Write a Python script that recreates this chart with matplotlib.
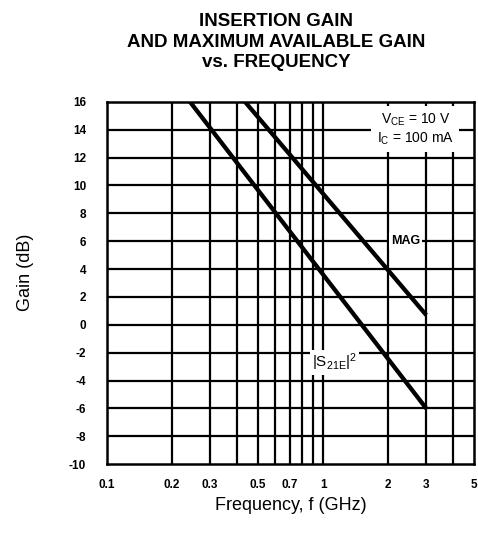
import matplotlib
matplotlib.use("Agg")
import matplotlib.pyplot as plt

plt.rcParams['font.family'] = ['Liberation Sans', 'DejaVu Sans']
plt.rcParams['mathtext.fontset'] = 'custom'
plt.rcParams['mathtext.rm'] = 'Liberation Sans'
plt.rcParams['mathtext.it'] = 'Liberation Sans'
plt.rcParams['mathtext.bf'] = 'Liberation Sans:bold'
plt.rcParams['mathtext.default'] = 'regular'

# Data (straight lines on the log axis)
mag_freq = [0.435, 1.0, 3.0]
mag_gain = [16.0, 9.4, 0.7]
s21_freq = [0.242, 1.0, 3.0]
s21_gain = [16.0, 3.6, -6.0]

x_ticks = [0.1, 0.2, 0.3, 0.5, 0.7, 1, 2, 3, 5]
x_tick_labels = ['0.1', '0.2', '0.3', '0.5', '0.7', '1', '2', '3', '5']
x_grid = [0.2, 0.3, 0.4, 0.5, 0.6, 0.7, 0.8, 0.9, 1, 2, 3, 4]
y_ticks = list(range(-10, 17, 2))

fig = plt.figure(figsize=(4.78, 5.36), dpi=100)
ax = fig.add_axes([0.224, 0.134, 0.768, 0.676])
ax.set_xscale('log')
ax.set_xlim(0.1, 5)
ax.set_ylim(-10, 16)

for xv in x_grid:
    ax.axvline(xv, color='black', lw=1.6, zorder=1)
for yv in y_ticks[1:-1]:
    ax.axhline(yv, color='black', lw=1.6, zorder=1)

ax.plot(mag_freq, mag_gain, color='black', lw=3.1, zorder=3, solid_capstyle='butt')
ax.plot(s21_freq, s21_gain, color='black', lw=3.1, zorder=3, solid_capstyle='butt')

ax.set_xticks(x_ticks)
ax.set_xticklabels(x_tick_labels)
ax.xaxis.set_minor_locator(matplotlib.ticker.NullLocator())
ax.set_yticks(y_ticks)
ax.set_yticklabels([str(v) for v in y_ticks])
ax.tick_params(axis='both', length=0, labelsize=8.5)
for lab in ax.get_xticklabels() + ax.get_yticklabels():
    lab.set_fontweight('bold')
ax.tick_params(axis='y', pad=15)
ax.tick_params(axis='x', pad=11)
for s in ax.spines.values():
    s.set_linewidth(1.8)

ax.text(2.67, 14.05, 'V$_{CE}$ = 10 V\nI$_C$ = 100 mA', ha='center', va='center',
        fontsize=10, linespacing=1.25,
        bbox=dict(facecolor='white', edgecolor='none', pad=4), zorder=4)
ax.text(2.4, 6.0, 'MAG', ha='center', va='center', fontsize=9, fontweight='bold',
        bbox=dict(facecolor='white', edgecolor='none', pad=1.5), zorder=4)
ax.text(0.885, -2.7, '|S$_{21E}$|$^2$', ha='left', va='center', fontsize=11,
        bbox=dict(facecolor='white', edgecolor='none', pad=1.5), zorder=4)

ax.set_xlabel('Frequency, f (GHz)', fontsize=13, labelpad=4)
ax.set_ylabel('Gain (dB)', fontsize=13)
ax.yaxis.set_label_coords(-0.20, 0.53)

fig.text(0.578, 0.975, 'INSERTION GAIN\nAND MAXIMUM AVAILABLE GAIN\nvs. FREQUENCY',
         ha='center', va='top', fontsize=13.5, fontweight='bold', linespacing=1.25)

fig.savefig('out.png', dpi=100)
